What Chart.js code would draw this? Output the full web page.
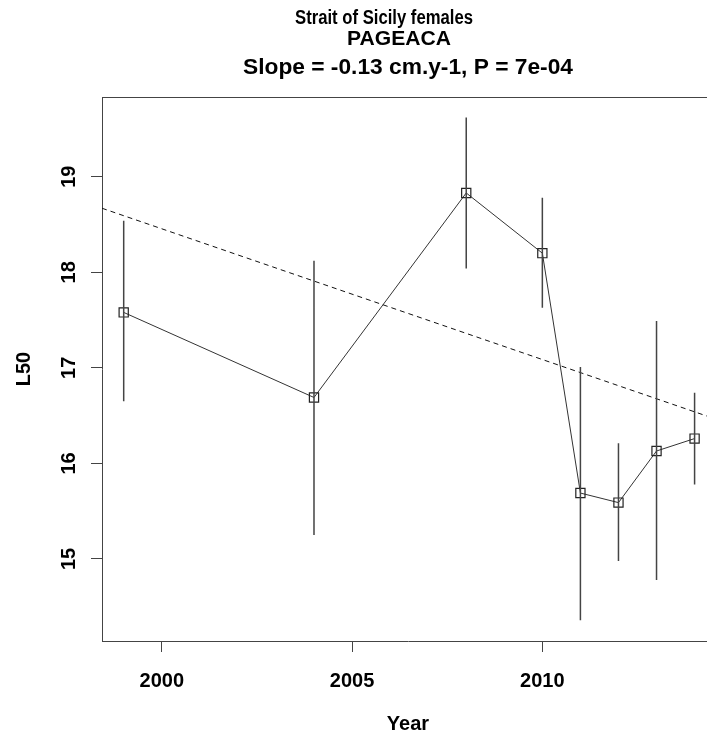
<!DOCTYPE html>
<html>
<head>
<meta charset="utf-8">
<script src="https://cdn.jsdelivr.net/npm/chart.js@4"></script>
<style>
  html, body { margin: 0; padding: 0; background: #fff; overflow: hidden; }
  canvas { display: block; }
</style>
</head>
<body>
<canvas id="chart" width="714" height="738"></canvas>
<script>
// data
const years = [1999, 2004, 2008, 2010, 2011, 2012, 2013, 2014];
const l50 = [17.58, 16.69, 18.83, 18.20, 15.69, 15.59, 16.13, 16.26];
const lower = [16.65, 15.25, 18.04, 17.63, 14.36, 14.98, 14.78, 15.78];
const upper = [18.54, 18.12, 19.62, 18.78, 17.01, 16.21, 17.49, 16.74];
const trendX = [1998.43, 2014.51];
const trendY = [18.67, 16.47];
const xTicks = [2000, 2005, 2010];
const yTicks = [15, 16, 17, 18, 19];

const FONT = '"Liberation Sans", Arial, sans-serif';

// text, centre x, baseline y, font size, target width
const titleLines = [
  { text: "Strait of Sicily females", x: 384, y: 24, size: 19.5, width: 178 },
  { text: "PAGEACA", x: 399, y: 45, size: 21, width: 104 },
  { text: "Slope = -0.13 cm.y-1, P = 7e-04", x: 408, y: 74, size: 22, width: 330 },
];

const mainPts = years.map((yr, i) => ({ x: yr, y: l50[i] }));
const errPts = years.flatMap((yr, i) => [
  { x: yr, y: lower[i] }, { x: yr, y: upper[i] }, { x: yr, y: null }
]);
const trendPts = trendX.map((x, i) => ({ x: x, y: trendY[i] }));

// titles, top of the box and rotated y labels like R draws them
const rPlot = {
  id: 'rPlot',
  afterDraw(chart) {
    const ctx = chart.ctx;
    const area = chart.chartArea;
    ctx.save();
    ctx.strokeStyle = '#444';
    ctx.lineWidth = 1;
    ctx.beginPath();
    ctx.moveTo(area.left, area.top + 0.5);
    ctx.lineTo(area.right, area.top + 0.5);
    ctx.stroke();

    ctx.fillStyle = '#000';
    titleLines.forEach(t => {
      ctx.font = 'bold ' + t.size + 'px ' + FONT;
      const w = ctx.measureText(t.text).width;
      ctx.save();
      ctx.translate(t.x, t.y);
      ctx.scale(Math.min(1.1, t.width / w), 1);
      ctx.textAlign = 'center';
      ctx.textBaseline = 'alphabetic';
      ctx.fillText(t.text, 0, 0);
      ctx.restore();
    });

    const ys = chart.scales.y;
    ctx.font = 'bold 20px ' + FONT;
    ctx.textAlign = 'center';
    ctx.textBaseline = 'middle';
    ys.ticks.forEach(tk => {
      ctx.save();
      ctx.translate(69, ys.getPixelForValue(tk.value));
      ctx.rotate(-Math.PI / 2);
      ctx.fillText(String(tk.value), 0, 0);
      ctx.restore();
    });
    ctx.restore();
  }
};

new Chart(document.getElementById('chart'), {
  type: 'line',
  data: {
    datasets: [
      {
        data: errPts,
        borderColor: '#444',
        borderWidth: 1.5,
        pointRadius: 0,
        spanGaps: false,
      },
      {
        data: trendPts,
        borderColor: '#111',
        borderWidth: 1,
        borderDash: [5, 4],
        pointRadius: 0,
      },
      {
        data: mainPts,
        borderColor: '#333',
        borderWidth: 1,
        pointStyle: 'rect',
        pointRadius: 6.5,
        pointBorderWidth: 1.2,
        pointBorderColor: '#222',
        pointBackgroundColor: 'rgba(0,0,0,0)',
      },
    ],
  },
  options: {
    responsive: false,
    animation: false,
    devicePixelRatio: 1,
    layout: { autoPadding: false, padding: { top: 97, left: 0, right: 0, bottom: 0 } },
    plugins: { legend: { display: false }, tooltip: { enabled: false } },
    scales: {
      x: {
        type: 'linear',
        min: trendX[0],
        max: trendX[1],
        afterBuildTicks: s => { s.ticks = xTicks.map(v => ({ value: v })); },
        afterFit: s => { s.height = 97; },
        grid: { drawOnChartArea: false, drawTicks: true, tickLength: 11, color: '#444' },
        border: { display: true, color: '#444', width: 1 },
        ticks: {
          color: '#000',
          padding: 17,
          maxRotation: 0,
          font: { family: FONT, size: 20, weight: 'bold' },
          callback: v => String(v),
        },
        title: {
          display: true,
          text: 'Year',
          color: '#000',
          padding: { top: 0, bottom: 2 },
          font: { family: FONT, size: 20, weight: 'bold' },
        },
      },
      y: {
        min: 14.142,
        max: 19.834,
        afterBuildTicks: s => { s.ticks = yTicks.map(v => ({ value: v })); },
        afterFit: s => { s.width = 102; },
        grid: { drawOnChartArea: false, drawTicks: true, tickLength: 11, color: '#444' },
        border: { display: true, color: '#444', width: 1 },
        ticks: { display: false },
        title: {
          display: true,
          text: 'L50',
          color: '#000',
          padding: { top: 12, bottom: 0 },
          font: { family: FONT, size: 20, weight: 'bold' },
        },
      },
    },
  },
  plugins: [rPlot],
});
</script>
</body>
</html>
